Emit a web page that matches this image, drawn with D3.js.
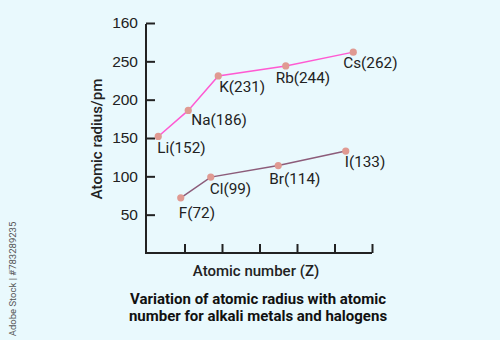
<!DOCTYPE html>
<html>
<head>
<meta charset="utf-8">
<script src="https://cdn.jsdelivr.net/npm/d3@7"></script>
<style>
  html, body { margin: 0; padding: 0; background: #e9f9fd; }
  svg { display: block; font-family: Roboto, "Noto Sans", sans-serif; }
</style>
</head>
<body>
<script>
// Alkali metals: symbol, atomic number, radius (pm)
const alkaliNames = ["Li", "Na", "K", "Rb", "Cs"];
const alkaliZ = [3, 11, 19, 37, 55];
const alkaliRadius = [152, 186, 231, 244, 262];

// Halogens
const halogenNames = ["F", "Cl", "Br", "I"];
const halogenZ = [9, 17, 35, 53];
const halogenRadius = [72, 99, 114, 133];

// Axis ticks (top label reads 160 in the original)
const yTicks = [50, 100, 150, 200, 250, 300];
const yTickLabels = ["50", "100", "150", "200", "250", "160"];
const xTicks = [10, 20, 30, 40, 50, 60];

// label nudges, so the text sits like the original
const labelDx = { Li: -1, Na: 3, K: 1, Rb: -10, Cs: -10, F: -2, Cl: -1, Br: -9, I: -1 };
const labelDy = { Li: 17, Na: 15, K: 16, Rb: 17, Cs: 16, F: 20, Cl: 17, Br: 18, I: 16 };

const w = 500;
const h = 340;

const svg = d3.select("body")
  .append("svg")
  .attr("width", w)
  .attr("height", h);

const x = d3.scaleLinear()
  .domain([0, 60])
  .range([147, 372]);

const y = d3.scaleLinear()
  .domain([0, 300])
  .range([253, 23]);

// y axis, ticks point inwards
const yAxis = svg.append("g")
  .attr("transform", `translate(${x(0) - 1},0)`)
  .call(d3.axisRight(y)
    .tickValues(yTicks)
    .tickSize(9)
    .tickFormat((d, i) => yTickLabels[i]));
yAxis.select(".domain").remove();
yAxis.selectAll(".tick line")
  .attr("stroke", "#222")
  .attr("stroke-width", 2);
yAxis.selectAll(".tick text")
  .attr("x", -8)
  .attr("text-anchor", "end")
  .attr("fill", "#222")
  .style("font-size", "15.5px");

// x axis, ticks without labels
const xAxis = svg.append("g")
  .attr("transform", `translate(0,${y(0)})`)
  .call(d3.axisTop(x)
    .tickValues(xTicks)
    .tickSize(9)
    .tickFormat(""));
xAxis.select(".domain").remove();
xAxis.selectAll(".tick line")
  .attr("stroke", "#222")
  .attr("stroke-width", 2);

// axis lines
svg.append("path")
  .attr("d", `M${x(0) - 1},${y(300) + 1}V${y(0)}H${x(60)}`)
  .attr("fill", "none")
  .attr("stroke", "#222")
  .attr("stroke-width", 2);

function drawSeries(names, zs, radii, color) {
  const pts = names.map((n, i) => ({ name: n, z: zs[i], r: radii[i] }));

  svg.append("path")
    .datum(pts)
    .attr("fill", "none")
    .attr("stroke", color)
    .attr("stroke-width", 1.5)
    .attr("d", d3.line().x(d => x(d.z)).y(d => y(d.r)));

  svg.selectAll(".pt-" + names[0])
    .data(pts)
    .enter()
    .append("circle")
    .attr("class", "pt-" + names[0])
    .attr("cx", d => x(d.z))
    .attr("cy", d => y(d.r))
    .attr("r", 3.6)
    .attr("fill", "#e09a92");

  svg.selectAll(".lab-" + names[0])
    .data(pts)
    .enter()
    .append("text")
    .attr("class", "lab-" + names[0])
    .attr("x", d => x(d.z) + labelDx[d.name])
    .attr("y", d => y(d.r) + labelDy[d.name])
    .attr("fill", "#222")
    .style("font-size", "15.3px")
    .text(d => `${d.name}(${d.r})`);
}

drawSeries(alkaliNames, alkaliZ, alkaliRadius, "#ff5ad2");
drawSeries(halogenNames, halogenZ, halogenRadius, "#8c5c7a");

// axis titles
svg.append("text")
  .attr("transform", "translate(102,139) rotate(-90)")
  .attr("text-anchor", "middle")
  .attr("fill", "#222")
  .style("font-size", "15px")
  .style("font-weight", 500)
  .text("Atomic radius/pm");

svg.append("text")
  .attr("x", 256)
  .attr("y", 276)
  .attr("text-anchor", "middle")
  .attr("fill", "#222")
  .style("font-size", "15px")
  .style("font-weight", 500)
  .text("Atomic number (Z)");

// caption
const caption = ["Variation of atomic radius with atomic",
                 "number for alkali metals and halogens"];
svg.selectAll(".caption")
  .data(caption)
  .enter()
  .append("text")
  .attr("class", "caption")
  .attr("x", 258)
  .attr("y", (d, i) => 304 + i * 17)
  .attr("text-anchor", "middle")
  .attr("fill", "#111")
  .style("font-size", "15px")
  .style("font-weight", 700)
  .text(d => d);

// stock id along the left edge
svg.append("text")
  .attr("transform", "translate(16,279) rotate(-90)")
  .attr("text-anchor", "middle")
  .attr("fill", "#555")
  .style("font-size", "9.5px")
  .text("Adobe Stock | #783289235");
</script>
</body>
</html>
